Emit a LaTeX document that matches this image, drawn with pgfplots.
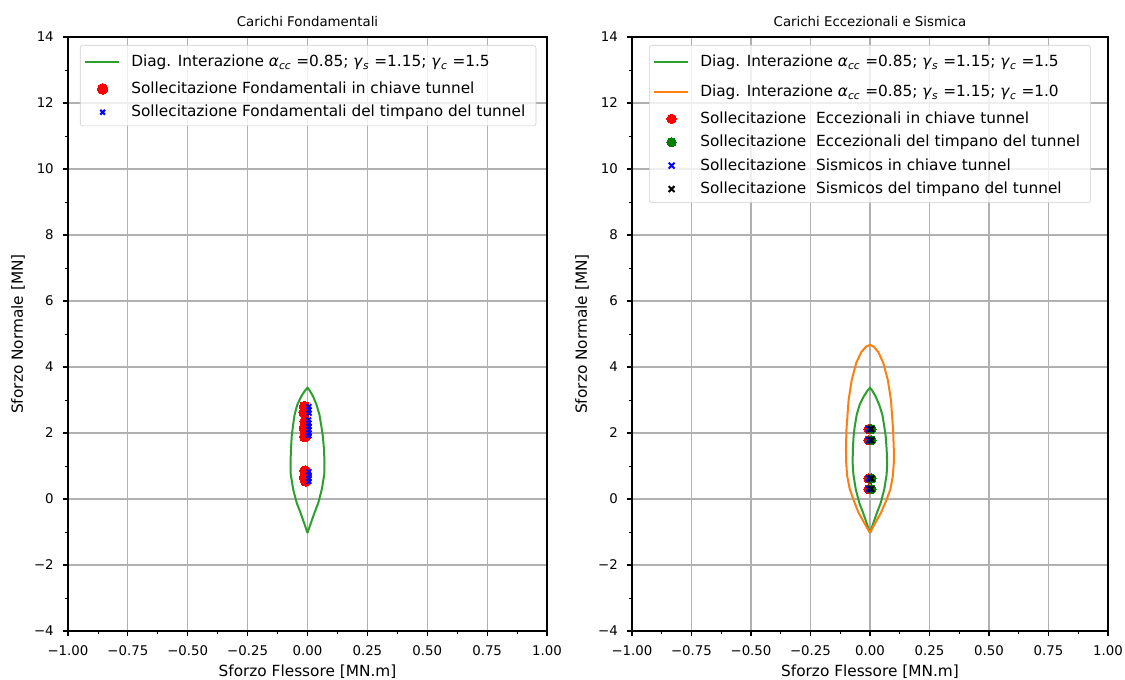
\documentclass[border=0pt]{standalone}
\usepackage{fontspec}
\setmainfont{DejaVu Sans}
\usepackage{pgfplots}
\pgfplotsset{compat=1.18}
\definecolor{tabgreen}{HTML}{2CA02C}
\definecolor{taborange}{HTML}{FF7F0E}
\definecolor{gridgray}{HTML}{B0B0B0}
\definecolor{legframe}{HTML}{CCCCCC}
\definecolor{mgreen}{HTML}{008000}
\newcommand{\gl}[2]{\textit{#1}\textsubscript{\textit{#2}}}
\newcommand{\ns}{\rule[-2.3pt]{0pt}{11.4pt}}
\newcommand{\ms}{\rule[-4.8pt]{0pt}{16.4pt}}
\pgfplotsset{
  mpl/.style={
    scale only axis, width=359.25pt, height=445.5pt,
    xmin=-1, xmax=1, ymin=-4, ymax=14,
    xtick={-1,-0.75,-0.5,-0.25,0,0.25,0.5,0.75,1},
    xticklabels={−1.00,−0.75,−0.50,−0.25,0.00,0.25,0.50,0.75,1.00},
    minor xtick={-0.875,-0.625,-0.375,-0.125,0.125,0.375,0.625,0.875},
    ytick={-4,-2,0,2,4,6,8,10,12,14},
    yticklabels={−4,−2,0,2,4,6,8,10,12,14},
    minor ytick={-3,-1,1,3,5,7,9,11,13},
    grid=major, major grid style={gridgray, line width=0.8pt},
    axis line style={line width=0.8pt, black},
    tick align=outside, xtick pos=bottom, ytick pos=left,
    major tick length=3.5pt, minor tick length=2pt,
    major tick style={black, line width=0.8pt},
    minor tick style={black, line width=0.6pt},
    tick label style={font=\fontsize{10}{12}\selectfont},
    xticklabel style={inner sep=0pt, anchor=north, yshift=-7pt},
    yticklabel style={inner sep=0pt, anchor=east, xshift=-7pt},
    title style={at={(0.5,1)}, anchor=base, yshift=1.5pt, inner sep=0pt, font=\fontsize{10}{12}\selectfont},
    xlabel style={at={(0.5,0)}, anchor=base, yshift=-34.3pt, inner sep=0pt, font=\fontsize{11.5}{13.8}\selectfont},
    ylabel style={at={(-0.1044,0.5)}, anchor=center, rotate=0, inner sep=0pt, font=\fontsize{11.5}{13.8}\selectfont},
    xlabel={Sforzo Flessore [MN.m]},
    ylabel={Sforzo Normale [MN]},
    legend cell align=left,
    legend style={at={(0,1)}, anchor=north west, yshift=-6pt,
      draw=legframe, rounded corners=2pt, fill=white, fill opacity=0.8, text opacity=1,
      font=\fontsize{11.5}{13.8}\selectfont, inner xsep=3pt, inner ysep=3.5pt,
      row sep=4.1pt, nodes={inner xsep=5pt, inner ysep=1pt, text depth=}},
  },
  lineleg/.style={legend image code/.code={\draw[##1, line width=1.5pt, opacity=1] (0pt,0pt) -- (25pt,0pt); \path[draw=none, fill=none] (0pt,0pt) -- (29.5pt,0pt);}},
  markleg/.style={legend image code/.code={\draw[##1, opacity=1, fill opacity=1, draw opacity=1] plot[only marks] coordinates {(13pt,0pt)}; \path[draw=none, fill=none] (0pt,0pt) -- (29.5pt,0pt);}},
}
\begin{document}
\begin{tikzpicture}
\begin{axis}[mpl, at={(51pt,36pt)}, anchor=south west,
  title={Carichi Fondamentali},
  legend style={xshift=9pt}]
\addplot[tabgreen, line width=1.5pt, mark=none, lineleg] coordinates {
(0,-1.03) (0.013,-0.75) (0.03,-0.4) (0.045,-0.12) (0.06,0.3) (0.07,0.75) (0.071,1.1) (0.069,1.5) (0.064,1.9) (0.058,2.2) (0.05,2.55) (0.038,2.85) (0.024,3.1) (0.01,3.28) (0,3.37)
(-0.011,3.28) (-0.027,3.1) (-0.043,2.85) (-0.054,2.55) (-0.061,2.2) (-0.066,1.9) (-0.069,1.5) (-0.071,1.1) (-0.07,0.75) (-0.06,0.3) (-0.045,-0.12) (-0.03,-0.4) (-0.013,-0.75) (0,-1.03)};
\addlegendentry{\ms Diag. Interazione \gl{α}{cc} =0.85; \gl{γ}{s} =1.15; \gl{γ}{c} =1.5}
\addplot[only marks, mark=*, mark size=4pt, red, mark options={draw=red, fill=red, line width=0pt}, markleg] coordinates {
(-0.012,2.8) (-0.008,2.72) (-0.014,2.62) (-0.01,2.35) (-0.006,2.25) (-0.013,2.15) (-0.009,2.05) (-0.006,1.95) (-0.011,1.89)
(-0.01,0.85) (-0.006,0.75) (-0.013,0.65) (-0.008,0.55)};
\addlegendentry{\ns Sollecitazione Fondamentali in chiave tunnel}
\addplot[only marks, mark=x, mark size=2.5pt, blue, mark options={line width=1.5pt}, markleg] coordinates {
(0.006,2.8) (0.006,2.7) (0.007,2.6) (0.005,2.4) (0.006,2.3) (0.006,2.2) (0.007,2.1) (0.005,2.0) (0.006,1.92)
(0.006,0.83) (0.006,0.72) (0.007,0.62) (0.006,0.53)};
\addlegendentry{\ns Sollecitazione Fondamentali del timpano del tunnel}
\end{axis}
\begin{axis}[mpl, at={(474pt,36pt)}, anchor=south west, width=357pt,
  title={Carichi Eccezionali e Sismica},
  ylabel style={at={(-0.105,0.5)}},
  legend style={xshift=12.75pt}]
\addplot[tabgreen, line width=1.5pt, mark=none, lineleg] coordinates {
(0,-1.03) (0.013,-0.75) (0.03,-0.4) (0.045,-0.12) (0.06,0.3) (0.07,0.75) (0.072,1.1) (0.07,1.5) (0.066,1.9) (0.06,2.2) (0.052,2.55) (0.039,2.85) (0.024,3.1) (0.01,3.28) (0,3.37)
(-0.011,3.28) (-0.027,3.1) (-0.044,2.85) (-0.056,2.55) (-0.064,2.2) (-0.069,1.9) (-0.072,1.5) (-0.073,1.1) (-0.07,0.75) (-0.06,0.3) (-0.045,-0.12) (-0.03,-0.4) (-0.013,-0.75) (0,-1.03)};
\addlegendentry{\ms Diag. Interazione \gl{α}{cc} =0.85; \gl{γ}{s} =1.15; \gl{γ}{c} =1.5}
\addplot[taborange, line width=1.5pt, mark=none, lineleg] coordinates {
(0,-1.03) (0.02,-0.75) (0.046,-0.42) (0.068,-0.05) (0.086,0.3) (0.096,0.7) (0.1,1.1) (0.1,1.5) (0.097,2.1) (0.088,3.0) (0.075,3.6) (0.056,4.12) (0.035,4.45) (0.015,4.62) (0,4.67)
(-0.016,4.62) (-0.037,4.45) (-0.058,4.12) (-0.077,3.6) (-0.09,3.0) (-0.099,2.1) (-0.101,1.5) (-0.1,1.1) (-0.096,0.7) (-0.085,0.3) (-0.068,-0.05) (-0.048,-0.42) (-0.022,-0.75) (0,-1.03)};
\addlegendentry{\ms Diag. Interazione \gl{α}{cc} =0.85; \gl{γ}{s} =1.15; \gl{γ}{c} =1.0}
\addplot[only marks, mark=*, mark size=3.5pt, red, mark options={draw=red, fill=red, line width=0pt}, markleg] coordinates {
(-0.006,2.12) (-0.006,1.78) (-0.006,0.62) (-0.006,0.3)};
\addlegendentry{\ns Sollecitazione~ Eccezionali in chiave tunnel}
\addplot[only marks, mark=*, mark size=3.5pt, mgreen, mark options={draw=mgreen, fill=mgreen, line width=0pt}, markleg] coordinates {
(0.006,2.12) (0.006,1.78) (0.006,0.62) (0.006,0.3)};
\addlegendentry{\ns Sollecitazione~ Eccezionali del timpano del tunnel}
\addplot[only marks, mark=x, mark size=3.1pt, blue, mark options={line width=1.5pt}, markleg] coordinates {
(-0.004,2.12) (-0.004,1.78) (-0.004,0.62) (-0.004,0.3)};
\addlegendentry{\ns Sollecitazione~ Sismicos in chiave tunnel}
\addplot[only marks, mark=x, mark size=3.1pt, black, mark options={line width=1.5pt}, markleg] coordinates {
(0.005,2.12) (0.005,1.78) (0.005,0.62) (0.005,0.3)};
\addlegendentry{\ns Sollecitazione~ Sismicos del timpano del tunnel}
\end{axis}
\pgfresetboundingbox
\useasboundingbox (0,0) rectangle (843.75pt,509.25pt);
\end{tikzpicture}
\end{document}
